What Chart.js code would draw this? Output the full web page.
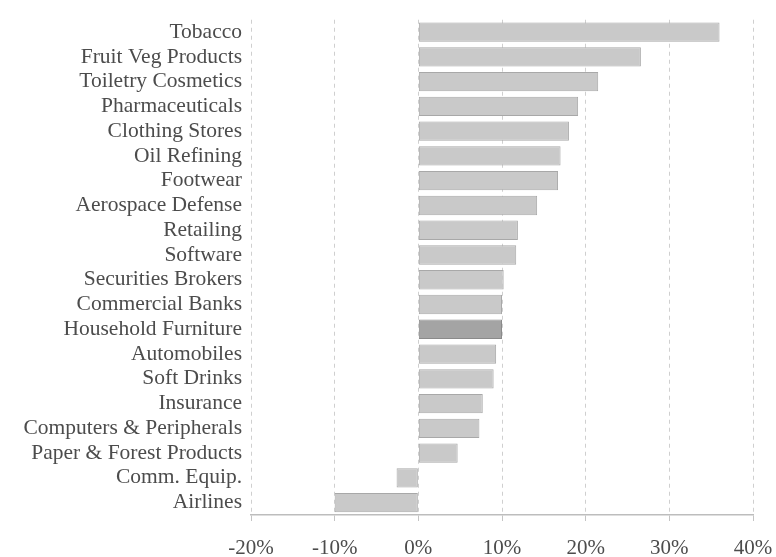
<!DOCTYPE html>
<html>
<head>
<meta charset="utf-8">
<script src="https://cdn.jsdelivr.net/npm/chart.js@4/dist/chart.umd.min.js"></script>
<style>
  html, body { margin: 0; padding: 0; background: #fff; }
  #wrap { width: 776px; height: 557px; position: relative; }
</style>
</head>
<body>
<div id="wrap"><canvas id="chart"></canvas></div>
<script>
const INDUSTRIES = [
  'Tobacco', 'Fruit Veg Products', 'Toiletry Cosmetics', 'Pharmaceuticals',
  'Clothing Stores', 'Oil Refining', 'Footwear', 'Aerospace Defense',
  'Retailing', 'Software', 'Securities Brokers', 'Commercial Banks',
  'Household Furniture', 'Automobiles', 'Soft Drinks', 'Insurance',
  'Computers & Peripherals', 'Paper & Forest Products', 'Comm. Equip.', 'Airlines'
];
const RETURNS = [36.0, 26.6, 21.5, 19.1, 18.0, 17.0, 16.7, 14.2, 11.9, 11.7,
                 10.2, 10.0, 10.0, 9.3, 9.0, 7.7, 7.3, 4.7, -2.6, -10.0];
const HIGHLIGHT = 'Household Furniture';
const X_MIN = -20, X_MAX = 40, X_STEP = 10;

const TEXT = '#4c4c4c';
const FONT = 'Liberation Serif';

new Chart(document.getElementById('chart'), {
  type: 'bar',
  data: {
    labels: INDUSTRIES,
    datasets: [{
      data: RETURNS,
      backgroundColor: INDUSTRIES.map(n => n === HIGHLIGHT ? '#a4a4a4' : '#c9c9c9'),
      borderColor: INDUSTRIES.map(n => n === HIGHLIGHT ? '#8a8a8a' : '#a8a8a8'),
      borderWidth: 1,
      borderSkipped: false,
      barPercentage: 0.78,
      categoryPercentage: 1
    }]
  },
  options: {
    indexAxis: 'y',
    responsive: true,
    maintainAspectRatio: false,
    animation: false,
    layout: { padding: { top: 13, right: 23, left: 0, bottom: 0 } },
    plugins: { legend: { display: false }, tooltip: { enabled: false } },
    scales: {
      x: {
        min: X_MIN, max: X_MAX,
        afterFit: s => { s.height = 42; s.paddingLeft = 0; s.paddingRight = 0; },
        grid: { color: '#cfcfcf', lineWidth: 1, tickLength: 6, tickColor: '#c4c4c4' },
        border: { display: true, color: '#bdbdbd', width: 1.5, dash: [4, 4] },
        ticks: {
          stepSize: X_STEP, color: TEXT, padding: 17,
          font: { family: FONT, size: 21, lineHeight: 1 },
          callback: v => v + '%'
        }
      },
      y: {
        afterFit: s => { s.width = 251; },
        grid: { display: false, drawTicks: false },
        border: { display: false },
        ticks: {
          color: TEXT, padding: 9, autoSkip: false,
          font: { family: FONT, size: 21.5, lineHeight: 1 }
        }
      }
    }
  }
});
</script>
</body>
</html>
